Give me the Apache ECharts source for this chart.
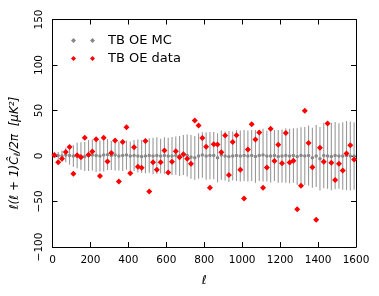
<!DOCTYPE html>
<html><head><meta charset="utf-8">
<script src="https://cdn.jsdelivr.net/npm/echarts@6/dist/echarts.min.js"></script>
<style>html,body{margin:0;padding:0;background:#fff}#c{width:379px;height:296px}</style>
</head><body><div id="c"></div>
<script>
// ell bin centres
const ells = [];
for (let i = 0; i < 80; i++) ells.push(10 + 20 * i);
// TB OE data (red diamonds)
const dataVals = [1,-7,-3,4.5,10,-19.5,0.7,-1.5,20,1.5,
  5,18.5,-22,20,-6,3.3,17,-28,15.5,31.6,
  -19,9.5,-11.7,-12.8,16.5,-39,-7,-15,-7,6,
  -18,-6.2,5.1,-1.5,1.8,-2.9,-8.4,39,33.4,19.7,
  10.3,-35,12.8,12.6,4.2,22.6,-20.9,15.5,22.8,-15,
  -46.6,7.2,34.9,18,25.9,-35,-12.5,29.9,-5.5,12.5,
  -8.1,25.3,-7.2,-5.3,-58.4,-32.7,49.6,14.3,-12.3,-70,
  9,-6.4,35.6,-7.3,-26.4,-8.6,-15.8,2.7,11.7,-3.8];
// TB OE MC mean (grey)
const mcMean = [0,0.5,0,1,0.5,0,0.5,0,-0.5,0.5,
  1,0.5,0,1,1.5,0.5,1,0,0.5,1,
  0,0.5,0,-0.5,0,0.5,0,0.5,0,0.5,
  0,0,0.5,0,1,0.5,-1,-2,0,1,
  0,0.5,0.5,-2,1,0,-0.5,0,0.5,0,
  0.5,0,0.5,-0.5,0.5,1,0,0,0.5,-0.5,
  0,0.5,0,0.5,-0.5,0.5,0,0.5,-2,0,
  -3,0.5,0,-0.5,0.5,0,0,0.5,0,0];
// TB OE MC error (half-length)
const mcErr = [2,4,6,8,10,12,14,15,16,17,
  17,18,17,18,17,16,17,16,17,16,
  16,17,18,18,19,19,20,20,19,20,
  20,21,21,22,22,23,24,24,25,25,
  26,26,26,27,27,27,28,27,28,28,
  28,28,28,29,28,29,28,29,28,29,
  29,30,30,30,31,31,32,33,33,34,
  35,36,36,37,37,36,37,38,38,37];
const xTicks = [0,200,400,600,800,1000,1200,1400,1600];
const yTicks = [-100,-50,0,50,100,150];

const FONT = 'DejaVu Sans';
const chart = echarts.init(document.getElementById('c'), null, {renderer:'canvas'});
const errData = ells.map((e,i)=>[e, mcMean[i]-mcErr[i], mcMean[i]+mcErr[i]]);
const mcData = ells.map((e,i)=>[e, mcMean[i]]);
const dData = ells.map((e,i)=>[e, dataVals[i]]);
const minus = v => String(v).replace('-', '\u2212');
const axisBase = {
  axisLine:{show:true,onZero:false,lineStyle:{color:'#000',width:1}},
  axisTick:{show:true,inside:true,length:5,lineStyle:{color:'#000',width:1}},
  splitLine:{show:false}
};
chart.setOption({
  animation:false,
  backgroundColor:'#fff',
  textStyle:{fontFamily:FONT},
  grid:{left:52.5,right:23,top:19.5,bottom:49,containLabel:false},
  legend:{
    left:66, top:29, orient:'vertical', itemGap:5,
    itemWidth:24, itemHeight:5,
    data:[
      {name:'TB OE MC', icon:'path://M0,2.5L2.5,0L5,2.5L2.5,5Z M19,2.5L21.5,0L24,2.5L21.5,5Z'},
      {name:'TB OE data', icon:'path://M0,2.5L2.5,0L5,2.5L2.5,5Z M19,2.5L21.5,0L24,2.5L21.5,5Z'}
    ],
    textStyle:{fontFamily:FONT,fontSize:13,color:'#000',padding:[0,0,0,8]}
  },
  graphic:[{
    type:'text', x:15, y:153, rotation:Math.PI/2,
    style:{
      text:'{a|\u2113(\u2113 + 1)C\u0302}{s|\u2113}{a|/2\u03c0  [\u03bcK\u00b2]}',
      align:'center', verticalAlign:'middle', fill:'#000',
      rich:{a:{fontFamily:FONT,fontSize:12,fontStyle:'italic',fill:'#000'},
            s:{fontFamily:FONT,fontSize:8.5,fontStyle:'italic',fill:'#000',verticalAlign:'bottom',padding:[5,0,0,0]}}
    }
  }],
  xAxis:[
    Object.assign({type:'value',min:0,max:1600,interval:200,position:'bottom',
      axisLabel:{fontFamily:FONT,fontSize:10.5,color:'#000',margin:8,formatter:v=>String(v)},
      name:'\u2113', nameLocation:'middle', nameGap:28,
      nameTextStyle:{fontFamily:FONT,fontSize:12,fontStyle:'italic',color:'#000'}}, axisBase),
    Object.assign({type:'value',min:0,max:1600,interval:200,position:'top',
      axisLabel:{show:false}}, axisBase)
  ],
  yAxis:[
    Object.assign({type:'value',min:-100,max:150,interval:50,position:'left',
      axisLabel:{fontFamily:FONT,fontSize:10.5,color:'#000',rotate:90,margin:8,formatter:v=>minus(v)}}, axisBase),
    Object.assign({type:'value',min:-100,max:150,interval:50,position:'right',
      axisLabel:{show:false}}, axisBase)
  ],
  series:[
    {type:'custom', name:'err', data:errData, z:1,
     renderItem:(params, api)=>{
       const p1 = api.coord([api.value(0), api.value(1)]);
       const p2 = api.coord([api.value(0), api.value(2)]);
       return {type:'line', shape:{x1:p1[0],y1:p1[1],x2:p2[0],y2:p2[1]},
               style:{stroke:'#999',lineWidth:1.1}};
     }},
    {type:'scatter', name:'TB OE MC', data:mcData, symbol:'circle', symbolSize:3.5,
     itemStyle:{color:'#888',opacity:1}, z:2},
    {type:'scatter', name:'TB OE data', data:dData, symbol:'diamond', symbolSize:6,
     itemStyle:{color:'#ff0000',opacity:1}, z:3}
  ]
});
</script></body></html>
